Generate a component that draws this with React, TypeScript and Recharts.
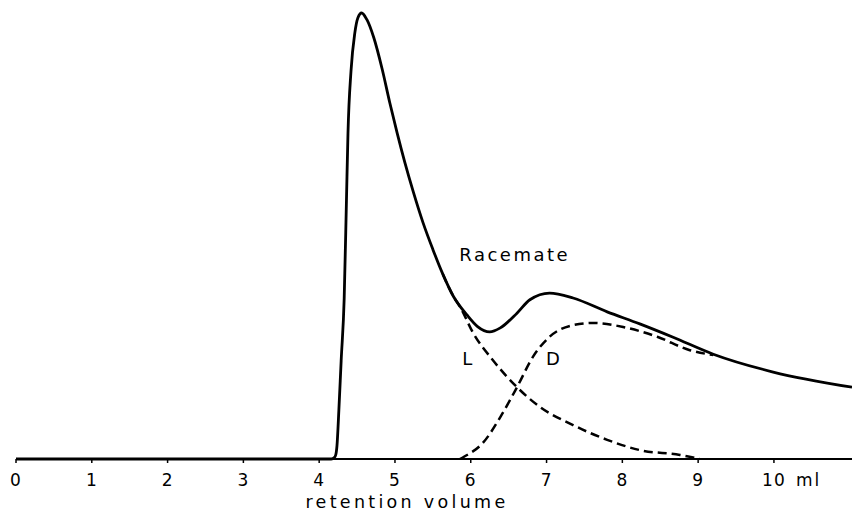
import React from "react";
import { LineChart, Line, XAxis, YAxis, ReferenceDot } from "recharts";

// Retention volume (ml) and detector response (% of main peak)
const racemateVolume = [0, 4.16, 4.2, 4.22, 4.235, 4.26, 4.29, 4.33, 4.36, 4.38, 4.42, 4.47, 4.51, 4.56, 4.63, 4.72, 4.83, 4.93, 5.03, 5.13, 5.24, 5.37, 5.5, 5.63, 5.77, 5.95, 6.09, 6.25, 6.39, 6.61, 6.78, 7.04, 7.35, 7.8, 8.23, 8.67, 9.2, 9.99, 11.03];
const racemateSignal = [0, 0, 0.3, 1.0, 3, 11, 22, 36, 58, 73, 87, 95.5, 98.9, 100, 98.5, 94.5, 87.5, 80, 73, 66.5, 60, 53, 47, 41.5, 36.5, 32.3, 29.7, 28.5, 29.4, 32.7, 35.7, 37.2, 36.1, 33.0, 30.3, 27.3, 23.5, 19.5, 16.1];

const lVolume = [5.63, 5.77, 5.86, 6.03, 6.29, 6.61, 6.91, 7.35, 7.8, 8.23, 8.76, 9.02];
const lSignal = [41.5, 36.5, 34.1, 28.3, 22.2, 16.1, 11.7, 7.6, 4.3, 2.0, 0.9, 0];

const dVolume = [5.86, 5.9, 6.16, 6.39, 6.61, 6.82, 7.04, 7.35, 7.61, 8.01, 8.46, 8.89, 9.2];
const dSignal = [0, 0.4, 3.6, 9.4, 16.1, 22.9, 27.4, 30.0, 30.5, 29.6, 27.4, 24.4, 23.3];

const tickValues = [0, 1, 2, 3, 4, 5, 6, 7, 8, 9, 10];
const tickLabels = ["0", "1", "2", "3", "4", "5", "6", "7", "8", "9", "10 ml"];

const curveLabels = [
  { v: 6.58, s: 45.7, text: "Racemate" },
  { v: 5.97, s: 22.5, text: "L" },
  { v: 7.1, s: 22.5, text: "D" },
];

const toRows = (xs: number[], ys: number[]) => xs.map((v, i) => ({ v, s: ys[i] }));
const racemateData = toRows(racemateVolume, racemateSignal);
const lData = toRows(lVolume, lSignal);
const dData = toRows(dVolume, dSignal);

const FONT = "'DejaVu Sans', sans-serif";

const Tick = (props: any) => {
  const { x, y, payload } = props;
  const idx = tickValues.indexOf(payload.value);
  const label = tickLabels[idx] ?? String(payload.value);
  const [num, unit] = label.split(" ");
  return (
    <g>
      <text x={x} y={y} dy={21} textAnchor="middle" fontFamily={FONT} fontSize={17} fill="#000" letterSpacing={1}>
        {num}
      </text>
      {unit ? (
        <text x={x + 22} y={y} dy={21} textAnchor="start" fontFamily={FONT} fontSize={17} fill="#000" letterSpacing={2}>
          {unit}
        </text>
      ) : null}
    </g>
  );
};

const AxisTitle = (props: any) => {
  const vb = props.viewBox || {};
  return (
    <text x={407} y={(vb.y ?? 459) + 48.8} textAnchor="middle" fontFamily={FONT} fontSize={17.5} fill="#000" letterSpacing={3.3}>
      retention volume
    </text>
  );
};

const CurveLabel = (text: string) => (props: any) => {
  const vb = props.viewBox || {};
  return (
    <text x={vb.x} y={vb.y} dy={6} textAnchor="middle" fontFamily={FONT} fontSize={18} fill="#000" letterSpacing={2.5}>
      {text}
    </text>
  );
};

export default function App() {
  return (
    <div style={{ position: "absolute", left: 0, top: 0, background: "#fff" }}>
      <LineChart width={852} height={512} margin={{ top: 13, right: 0, left: 16, bottom: 0 }}>
        <XAxis
          type="number"
          dataKey="v"
          domain={[0, 11.03]}
          ticks={tickValues}
          allowDataOverflow
          height={53}
          tickSize={4}
          tickLine={{ stroke: "#000", strokeWidth: 1.5 }}
          axisLine={{ stroke: "#000", strokeWidth: 2 }}
          tick={<Tick />}
          label={<AxisTitle />}
        />
        <YAxis type="number" domain={[0, 100]} hide />
        <Line
          data={dData}
          dataKey="s"
          type="monotone"
          stroke="#000"
          strokeWidth={2.5}
          strokeDasharray="9 5"
          dot={false}
          isAnimationActive={false}
        />
        <Line
          data={lData}
          dataKey="s"
          type="monotone"
          stroke="#000"
          strokeWidth={2.5}
          strokeDasharray="9 5"
          dot={false}
          isAnimationActive={false}
        />
        <Line
          data={racemateData}
          dataKey="s"
          type="monotone"
          stroke="#000"
          strokeWidth={2.8}
          dot={false}
          isAnimationActive={false}
        />
        {curveLabels.map((c) => (
          <ReferenceDot key={c.text} x={c.v} y={c.s} r={0} fill="none" stroke="none" label={CurveLabel(c.text)} />
        ))}
      </LineChart>
    </div>
  );
}
